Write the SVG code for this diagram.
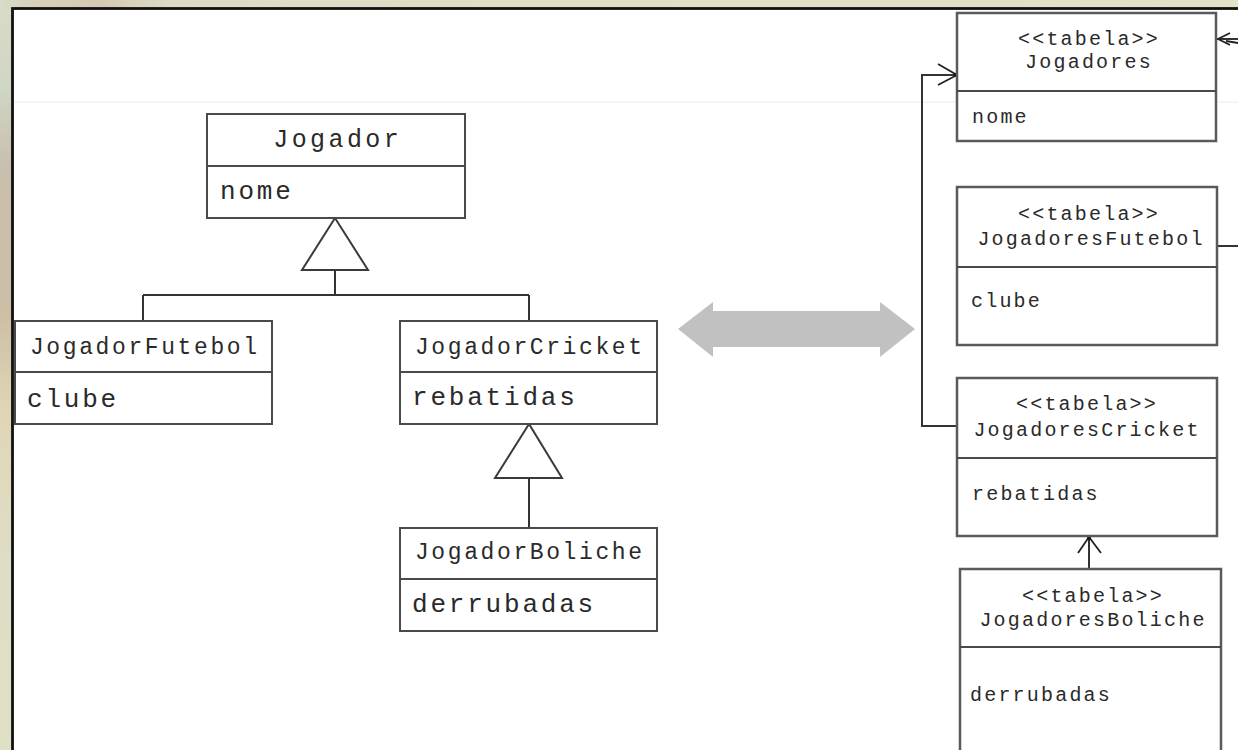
<svg xmlns="http://www.w3.org/2000/svg" width="1238" height="750" viewBox="0 0 1238 750">
  <defs>
    <linearGradient id="sideBg" x1="0" y1="0" x2="0" y2="1">
      <stop offset="0" stop-color="#d9dcc6"/>
      <stop offset="0.12" stop-color="#cfd6c4"/>
      <stop offset="0.22" stop-color="#c9bfae"/>
      <stop offset="0.42" stop-color="#cdbfa6"/>
      <stop offset="0.55" stop-color="#e0d6b6"/>
      <stop offset="0.75" stop-color="#dedec6"/>
      <stop offset="1" stop-color="#e0e0c6"/>
    </linearGradient>
    <linearGradient id="topBg" x1="0" y1="0" x2="1" y2="0">
      <stop offset="0" stop-color="#d8dcc6"/>
      <stop offset="0.03" stop-color="#d9cfbb"/>
      <stop offset="0.08" stop-color="#d6c9b4"/>
      <stop offset="0.14" stop-color="#dcdcc6"/>
      <stop offset="1" stop-color="#e3e2c8"/>
    </linearGradient>
    <style>
      .box { fill: #ffffff; stroke: #4a4a4a; stroke-width: 2; }
      .tbl { fill: #ffffff; stroke: #5a5a5a; stroke-width: 2.5; }
      .div { stroke: #4a4a4a; stroke-width: 2; }
      .wire { fill: none; stroke: #333333; stroke-width: 2; }
      .tri { fill: #ffffff; stroke: #3a3a3a; stroke-width: 2; }
      .head { fill: none; stroke: #222222; stroke-width: 1.8; }
      text { font-family: "Liberation Mono", "Courier New", monospace; fill: #2a2a2a; }
      .big { font-size: 25px; letter-spacing: 3.4px; }
      .attr { font-size: 26px; letter-spacing: 2.8px; }
      .ttl { font-size: 23px; letter-spacing: 2.6px; }
      .tb { font-size: 20px; letter-spacing: 2.2px; }
      .mid { text-anchor: middle; }
    </style>
  </defs>

  <!-- page background and framed panel -->
  <rect x="0" y="0" width="1238" height="750" fill="url(#sideBg)"/>
  <rect x="0" y="0" width="1238" height="9" fill="url(#topBg)"/>
  <rect x="12.5" y="8.5" width="1240" height="760" fill="#ffffff" stroke="#111111" stroke-width="2.8"/>
  <line x1="14" y1="102" x2="1238" y2="102" stroke="#eeebdf" stroke-width="1"/>

  <!-- connectors -->
  <g id="connectors">
    <!-- class hierarchy: Jogador -> Futebol / Cricket -->
    <polygon class="tri" points="335,218 302,270 368,270"/>
    <path class="wire" d="M335,270 V295 M143,295 H529 M143,295 V321 M529,295 V321"/>
    <!-- Cricket -> Boliche -->
    <polygon class="tri" points="529,424 495,478 562,478"/>
    <path class="wire" d="M529,478 V528"/>

    <!-- mapping arrow -->
    <polygon fill="#c1c1c1" points="678,329 713,302 713,311 880,311 880,302 915,329 880,357 880,347 713,347 713,357"/>

    <!-- JogadoresCricket -> Jogadores -->
    <path class="wire" d="M957,426 H922 V75 H956"/>
    <path class="head" d="M938,64 L957,75 L938,85"/>
    <circle cx="956" cy="75" r="2" fill="#111111"/>
    <!-- JogadoresBoliche -> JogadoresCricket -->
    <path class="wire" d="M1089,569 V538"/>
    <path class="head" d="M1078,553 L1089,537 L1101,553"/>
    <circle cx="1089" cy="538" r="2" fill="#111111"/>
    <!-- JogadoresFutebol -> Jogadores (continues off the right edge) -->
    <path class="wire" d="M1217,39 H1238"/>
    <path class="head" d="M1230,33 L1218,39 L1230,45 M1226,41 L1238,43"/>
    <path class="wire" d="M1217,246 H1238"/>
  </g>

  <!-- object model -->
  <g id="Jogador">
    <rect class="box" x="207" y="114" width="258" height="104"/>
    <line class="div" x1="207" y1="166" x2="465" y2="166"/>
    <text class="big mid" x="337.7" y="147">Jogador</text>
    <text class="attr" x="220" y="199">nome</text>
  </g>

  <g id="JogadorFutebol">
    <rect class="box" x="15" y="321" width="257" height="103"/>
    <line class="div" x1="15" y1="372" x2="272" y2="372"/>
    <text class="ttl mid" x="144.8" y="354">JogadorFutebol</text>
    <text class="attr" x="27" y="407">clube</text>
  </g>

  <g id="JogadorCricket">
    <rect class="box" x="400" y="321" width="257" height="103"/>
    <line class="div" x1="400" y1="372" x2="657" y2="372"/>
    <text class="ttl mid" x="529.8" y="354">JogadorCricket</text>
    <text class="attr" x="412" y="405">rebatidas</text>
  </g>

  <g id="JogadorBoliche">
    <rect class="box" x="400" y="528" width="257" height="103"/>
    <line class="div" x1="400" y1="579" x2="657" y2="579"/>
    <text class="ttl mid" x="529.8" y="559">JogadorBoliche</text>
    <text class="attr" x="412" y="612">derrubadas</text>
  </g>

  <!-- relational model -->
  <g id="Jogadores">
    <rect class="tbl" x="957" y="13" width="259" height="128"/>
    <line class="div" x1="957" y1="91" x2="1216" y2="91"/>
    <text class="tb mid" x="1089" y="45">&lt;&lt;tabela&gt;&gt;</text>
    <text class="tb mid" x="1089" y="68">Jogadores</text>
    <text class="tb" x="972" y="123">nome</text>
  </g>

  <g id="JogadoresFutebol">
    <rect class="tbl" x="957" y="187" width="260" height="158"/>
    <line class="div" x1="957" y1="267" x2="1217" y2="267"/>
    <text class="tb mid" x="1089" y="220">&lt;&lt;tabela&gt;&gt;</text>
    <text class="tb mid" x="1091" y="245">JogadoresFutebol</text>
    <text class="tb" x="971" y="307">clube</text>
  </g>

  <g id="JogadoresCricket">
    <rect class="tbl" x="957" y="378" width="260" height="158"/>
    <line class="div" x1="957" y1="458" x2="1217" y2="458"/>
    <text class="tb mid" x="1087" y="410">&lt;&lt;tabela&gt;&gt;</text>
    <text class="tb mid" x="1087" y="436">JogadoresCricket</text>
    <text class="tb" x="972" y="500">rebatidas</text>
  </g>

  <g id="JogadoresBoliche">
    <rect class="tbl" x="960" y="569" width="261" height="200"/>
    <line class="div" x1="960" y1="647" x2="1221" y2="647"/>
    <text class="tb mid" x="1093" y="602">&lt;&lt;tabela&gt;&gt;</text>
    <text class="tb mid" x="1093" y="626">JogadoresBoliche</text>
    <text class="tb" x="970" y="701">derrubadas</text>
  </g>
</svg>
